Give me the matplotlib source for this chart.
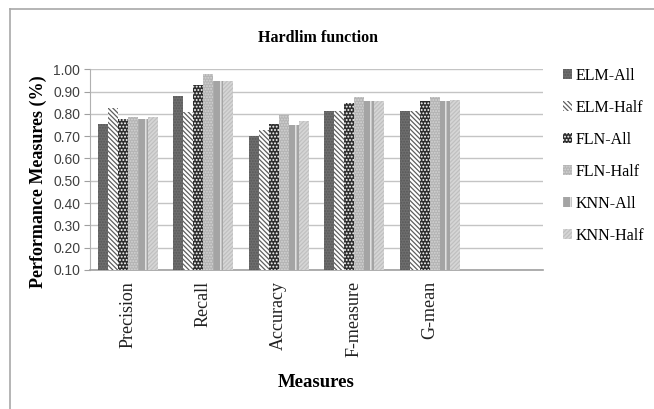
import matplotlib
matplotlib.use("Agg")
import matplotlib.pyplot as plt
import numpy as np

# data
measures = ["Precision", "Recall", "Accuracy", "F-measure", "G-mean"]
series = ["ELM-All", "ELM-Half", "FLN-All", "FLN-Half", "KNN-All", "KNN-Half"]
elm_all = [0.755, 0.878, 0.703, 0.815, 0.815]
elm_half = [0.827, 0.810, 0.726, 0.812, 0.815]
fln_all = [0.778, 0.929, 0.755, 0.849, 0.856]
fln_half = [0.785, 0.978, 0.797, 0.874, 0.874]
knn_all = [0.778, 0.948, 0.752, 0.856, 0.856]
knn_half = [0.785, 0.948, 0.770, 0.856, 0.860]
yticks = [0.1, 0.2, 0.3, 0.4, 0.5, 0.6, 0.7, 0.8, 0.9, 1.0]

values = [elm_all, elm_half, fln_all, fln_half, knn_all, knn_half]

# (face, hatch colour, hatch)
styles = [
    ("#6e6e6e", "#585858", "......"),
    ("#ffffff", "#5e5e5e", "\\" * 7),
    ("#2e2e2e", "#ffffff", "....."),
    ("#b4b4b4", "#d4d4d4", "......"),
    ("#a4a4a4", "#f0f0f0", "||"),
    ("#d6d6d6", "#c0c0c0", "/" * 8),
]

plt.rcParams["hatch.linewidth"] = 0.9

fig = plt.figure(figsize=(6.54, 4.09), dpi=100)
ax = fig.add_axes([0.1376, 0.340, 0.6927, 0.4906])

x = np.arange(len(measures))
w = 0.8 / len(series)
for i, (name, vals) in enumerate(zip(series, values)):
    face, hc, hatch = styles[i]
    pos = x - 0.4 + w * (i + 0.5)
    ax.bar(pos, np.array(vals) - 0.1, w, bottom=0.1, color=face,
           edgecolor=hc, hatch=hatch, linewidth=0, label=name, zorder=3)

ax.set_xlim(-0.5, 5.5)
ax.set_ylim(0.1, 1.0)
ax.set_yticks(yticks)
ax.set_yticklabels(["%.2f" % v for v in yticks], fontfamily="Liberation Sans",
                   fontsize=10, color="#404040")
ax.set_xticks(x)
ax.set_xticklabels(measures, rotation=90, fontfamily="Liberation Serif",
                   fontsize=13, color="#222222")
ax.tick_params(axis="x", length=0, pad=8)
ax.tick_params(axis="y", length=4, color="#a0a0a0", pad=3)
ax.yaxis.grid(True, color="#c4c4c4", linewidth=1.0, zorder=0)
ax.set_axisbelow(True)
for s in ["top", "right"]:
    ax.spines[s].set_visible(False)
ax.spines["left"].set_color("#b0b0b0")
ax.spines["bottom"].set_color("#a0a0a0")
ax.spines["bottom"].set_linewidth(1.2)

ax.set_ylabel("Performance Measures (%)", fontfamily="Liberation Serif",
              fontsize=13, fontweight="bold")
ax.yaxis.set_label_coords(-0.094, 0.44)
ax.set_xlabel("Measures", fontfamily="Liberation Serif", fontsize=13.5,
              fontweight="bold", labelpad=12)
fig.text(0.486, 0.907, "Hardlim function", ha="center", va="center",
         fontfamily="Liberation Serif", fontsize=11.5, fontweight="bold")

ax.legend(loc="upper left", bbox_to_anchor=(1.031, 1.04), frameon=False,
          prop={"family": "Liberation Serif", "size": 11.5},
          handlelength=0.55, handleheight=0.55, handletextpad=0.2,
          labelspacing=1.0, borderaxespad=0.0)

# outer chart frame (only top and left edges are inside the picture)
fig.add_artist(plt.Line2D([0.0153, 1.0], [0.978, 0.978], color="#a8a8a8",
                          linewidth=1.2, transform=fig.transFigure))
fig.add_artist(plt.Line2D([0.0153, 0.0153], [0.978, 0.0], color="#a8a8a8",
                          linewidth=1.2, transform=fig.transFigure))

fig.savefig("out.png", dpi=100)
